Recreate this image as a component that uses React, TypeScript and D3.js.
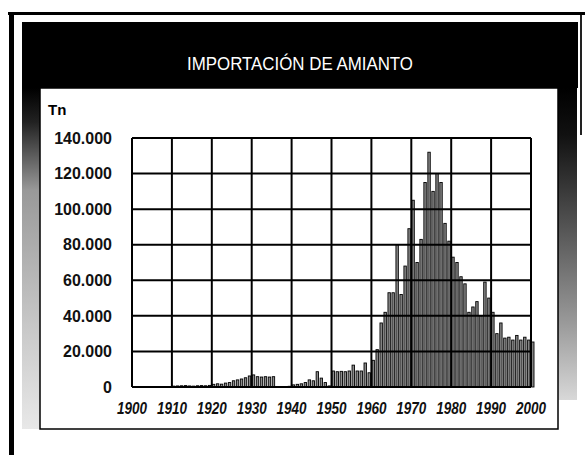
import React from 'react';
import * as d3 from 'd3';

// annual asbestos imports (tonnes)
const years = d3.range(1900, 2001);
const imports = [
  // 1900-1909
  0, 0, 0, 0, 0, 0, 0, 0, 0, 0,
  // 1910-1919
  500, 600, 700, 800, 600, 500, 700, 800, 700, 900,
  // 1920-1929
  1500, 1800, 1600, 2200, 2500, 3500, 4000, 4500, 5200, 6200,
  // 1930-1939
  6800, 5800, 5600, 5800, 5600, 5800, 300, 200, 200, 400,
  // 1940-1949
  1200, 1500, 1800, 2500, 4000, 3500, 8600, 5000, 2500, 600,
  // 1950-1959
  9000, 8600, 8800, 8600, 9000, 12300, 9000, 9000, 13500, 8000,
  // 1960-1969
  15000, 21000, 36000, 42000, 53000, 53000, 80000, 52000, 68000, 89000,
  // 1970-1979
  105000, 70000, 83000, 115000, 132000, 110000, 120000, 115000, 92000, 82000,
  // 1980-1989
  73000, 70000, 62000, 58000, 42000, 45000, 48000, 40000, 59000, 50000,
  // 1990-2000
  42000, 30000, 36000, 27500, 28000, 26400, 29000, 26400, 28000, 26400, 25300,
];
const yTicks = [0, 20000, 40000, 60000, 80000, 100000, 120000, 140000];
const xTicks = [1900, 1910, 1920, 1930, 1940, 1950, 1960, 1970, 1980, 1990, 2000];
const title = 'IMPORTACIÓN DE AMIANTO';
const unit = 'Tn';

const es = d3.formatLocale({ decimal: ',', thousands: '.', grouping: [3], currency: ['', ''] });
const fmt = es.format(',');

export default function App() {
  const x = d3.scaleLinear().domain([1900, 2000]).range([132, 531]);
  const y = d3.scaleLinear().domain([0, 140000]).range([387, 138]);

  return (
    <svg width={585} height={455} style={{ position: 'absolute', left: 0, top: 0 }}>
      <defs>
        <linearGradient id="leftStrip" x1="0" y1="0" x2="0" y2="1">
          <stop offset="0%" stopColor="#000" />
          <stop offset="10%" stopColor="#222" />
          <stop offset="30%" stopColor="#999" />
          <stop offset="70%" stopColor="#c8c8c8" />
          <stop offset="100%" stopColor="#e8e8e8" />
        </linearGradient>
        <linearGradient id="rightStrip" x1="0" y1="0" x2="0" y2="1">
          <stop offset="0%" stopColor="#000" />
          <stop offset="15%" stopColor="#111" />
          <stop offset="45%" stopColor="#555" />
          <stop offset="75%" stopColor="#999" />
          <stop offset="100%" stopColor="#d8d8d8" />
        </linearGradient>
      </defs>
      <rect x={0} y={0} width={585} height={455} fill="#fff" />

      {/* outer frame */}
      <rect x={8} y={12} width={577} height={3} fill="#000" />
      <rect x={9} y={12} width={5} height={443} fill="#000" />
      <rect x={580} y={15} width={2} height={120} fill="#222" />

      {/* header band and side strips */}
      <rect x={22} y={22} width={556} height={66} fill="#000" />
      <rect x={22} y={88} width={18} height={341} fill="url(#leftStrip)" />
      <rect x={558} y={88} width={19} height={312} fill="url(#rightStrip)" />
      <text x={300} y={70} fill="#fff" fontFamily="Liberation Sans, Arial, sans-serif"
        fontSize={18} textAnchor="middle" textLength={226} lengthAdjust="spacingAndGlyphs">
        {title}
      </text>

      {/* white panel */}
      <rect x={40} y={88} width={518} height={341} fill="#fff" stroke="#000" strokeWidth={1.5} />
      <text x={48} y={115} fontFamily="Liberation Sans, Arial, sans-serif" fontWeight="bold"
        fontSize={15}>{unit}</text>

      {/* bars */}
      <g>
        {years.map((yr, i) => imports[i] > 0 && (
          <rect key={yr} x={x(yr) + 0.6} width={2.4} y={y(imports[i])}
            height={y(0) - y(imports[i])} fill="#8c8c8c" stroke="#000" strokeWidth={0.9} />
        ))}
      </g>

      {/* grid */}
      <g stroke="#000" strokeWidth={2}>
        {yTicks.map(t => (
          <line key={t} x1={x(1900)} x2={x(2000)} y1={y(t)} y2={y(t)} />
        ))}
        {xTicks.map(t => (
          <line key={t} x1={x(t)} x2={x(t)} y1={y(0)} y2={y(140000)} />
        ))}
      </g>

      {/* y labels */}
      <g fontFamily="Liberation Sans, Arial, sans-serif" fontWeight="bold" fontSize={16}
        textAnchor="end" fill="#111">
        {yTicks.map(t => (
          <text key={t} x={112} y={y(t)} dy="0.36em">{fmt(t)}</text>
        ))}
      </g>

      {/* x labels */}
      <g fontFamily="Liberation Sans, Arial, sans-serif" fontStyle="italic" fontWeight="bold"
        fontSize={16} textAnchor="middle" fill="#111">
        {xTicks.map(t => (
          <text key={t} x={x(t)} y={414} textLength={30} lengthAdjust="spacingAndGlyphs">{t}</text>
        ))}
      </g>
    </svg>
  );
}
